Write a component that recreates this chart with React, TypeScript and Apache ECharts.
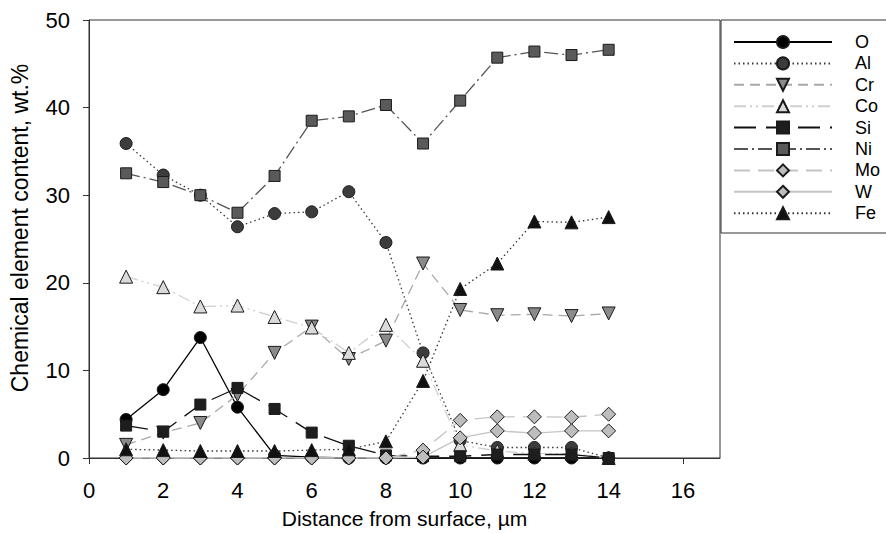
import React, { useEffect, useRef } from "react";
import * as echarts from "echarts";

const distance = [1, 2, 3, 4, 5, 6, 7, 8, 9, 10, 11, 12, 13, 14];
const O = [4.4, 7.8, 13.75, 5.8, 0.3, 0.1, 0, 0, 0, 0, 0, 0, 0, 0];
const Al = [35.9, 32.3, 30.0, 26.4, 27.9, 28.1, 30.4, 24.6, 12.0, 2.0, 1.2, 1.2, 1.2, 0];
const Cr = [1.5, 2.9, 4.0, 7.2, 12.0, 15.0, 11.3, 13.4, 22.2, 16.9, 16.3, 16.4, 16.2, 16.5];
const Co = [20.7, 19.5, 17.3, 17.4, 16.1, 14.9, 12.0, 15.2, 11.1, 1.5, 0.8, 0.5, 0.5, 0];
const Si = [3.7, 3.0, 6.1, 8.0, 5.6, 2.9, 1.4, 0.3, 0.2, 0.2, 0.4, 0.4, 0.4, 0];
const Ni = [32.5, 31.5, 30.0, 28.0, 32.2, 38.5, 39.0, 40.3, 35.9, 40.8, 45.7, 46.4, 46.0, 46.6];
const Mo = [0, 0, 0, 0, 0, 0, 0, 0, 0.9, 4.3, 4.7, 4.7, 4.65, 5.0];
const W = [0, 0, 0, 0, 0, 0, 0, 0, 0.1, 2.3, 3.1, 2.85, 3.1, 3.1];
const Fe = [1.0, 0.9, 0.8, 0.8, 0.8, 0.9, 1.0, 1.9, 8.8, 19.3, 22.2, 27.0, 26.9, 27.5];

const seriesNames = ["O", "Al", "Cr", "Co", "Si", "Ni", "Mo", "W", "Fe"];
const seriesValues = [O, Al, Cr, Co, Si, Ni, Mo, W, Fe];
const xTitle = "Distance from surface, µm";
const yTitle = "Chemical element content, wt.%";

const styles: Record<string, any> = {
  O: { symbol: "circle", size: 12, rotate: 0, fill: "#000000", line: "#000000", dash: "solid" },
  Al: { symbol: "circle", size: 12, rotate: 0, fill: "#3c3c3c", line: "#3a3a3a", dash: [1.5, 3] },
  Cr: { symbol: "triangle", size: 13, rotate: 180, fill: "#8a8a8a", line: "#a8a8a8", dash: [10, 6] },
  Co: { symbol: "triangle", size: 13, rotate: 0, fill: "#dadada", line: "#cfcfcf", dash: [12, 4, 2, 4, 2, 4] },
  Si: { symbol: "rect", size: 11, rotate: 0, fill: "#1e1e1e", line: "#111111", dash: [22, 10] },
  Ni: { symbol: "rect", size: 11, rotate: 0, fill: "#5a5a5a", line: "#555555", dash: [14, 4, 2, 4] },
  Mo: { symbol: "diamond", size: 14, rotate: 0, fill: "#bdbdbd", line: "#c4c4c4", dash: [16, 8] },
  W: { symbol: "diamond", size: 14, rotate: 0, fill: "#bdbdbd", line: "#c4c4c4", dash: "solid" },
  Fe: { symbol: "triangle", size: 13, rotate: 0, fill: "#111111", line: "#333333", dash: [1.5, 3] },
};

const FONT = "Liberation Sans, Arial, sans-serif";

export default function App() {
  const ref = useRef<HTMLDivElement>(null);
  useEffect(() => {
    if (!ref.current) return;
    const chart = echarts.init(ref.current, undefined, { renderer: "svg" });
    const series = seriesNames.map((name, i) => {
      const s = styles[name];
      return {
        name,
        type: "line",
        data: distance.map((d, j) => [d, seriesValues[i][j]]),
        symbol: s.symbol,
        symbolSize: s.size,
        symbolRotate: s.rotate,
        showAllSymbol: true,
        lineStyle: { color: s.line, width: 1.3, type: s.dash },
        itemStyle: { color: s.fill, borderColor: "#1a1a1a", borderWidth: 1 },
        emphasis: { disabled: true },
      };
    });
    chart.setOption({
      animation: false,
      backgroundColor: "#ffffff",
      grid: {
        left: 89,
        right: 166,
        top: 20,
        bottom: 74,
        show: true,
        borderColor: "#333333",
        borderWidth: 1,
        backgroundColor: "transparent",
      },
      legend: {
        orient: "vertical",
        left: 733,
        top: 33,
        padding: 0,
        itemWidth: 98,
        itemHeight: 15,
        itemGap: 3.4,
        selectedMode: false,
        data: seriesNames,
        textStyle: {
          fontFamily: FONT,
          fontSize: 18,
          color: "#000000",
          padding: [0, 0, 0, 18],
        },
      },
      xAxis: {
        type: "value",
        min: 0,
        max: 17,
        interval: 2,
        name: xTitle,
        nameLocation: "middle",
        nameGap: 50,
        nameTextStyle: { fontFamily: FONT, fontSize: 21, color: "#000" },
        axisLine: { lineStyle: { color: "#333333", width: 1 } },
        axisTick: { show: true, inside: false, length: 6, lineStyle: { color: "#333333" } },
        axisLabel: {
          showMaxLabel: false,
          fontFamily: FONT,
          fontSize: 22,
          color: "#000",
          margin: 21,
        },
        splitLine: { show: false },
      },
      yAxis: {
        type: "value",
        min: 0,
        max: 50,
        interval: 10,
        axisLine: { show: true, lineStyle: { color: "#333333", width: 1 } },
        axisTick: { show: true, inside: false, length: 6, lineStyle: { color: "#333333" } },
        axisLabel: {
          fontFamily: FONT,
          fontSize: 22,
          color: "#000",
          margin: 19,
        },
        splitLine: { show: false },
      },
      graphic: [
        {
          type: "rect",
          shape: { x: 721, y: 20, width: 200, height: 213 },
          style: { fill: "transparent", stroke: "#333333", lineWidth: 1 },
          silent: true,
        },
        {
          type: "text",
          x: 20,
          y: 228,
          rotation: Math.PI / 2,
          silent: true,
          style: {
            text: yTitle,
            fontFamily: FONT,
            fontSize: 23,
            fill: "#000",
            align: "center",
            verticalAlign: "middle",
          },
        },
      ],
      series,
    });
    return () => chart.dispose();
  }, []);
  return <div ref={ref} style={{ width: 886, height: 534, position: "absolute", left: 0, top: 0 }} />;
}
